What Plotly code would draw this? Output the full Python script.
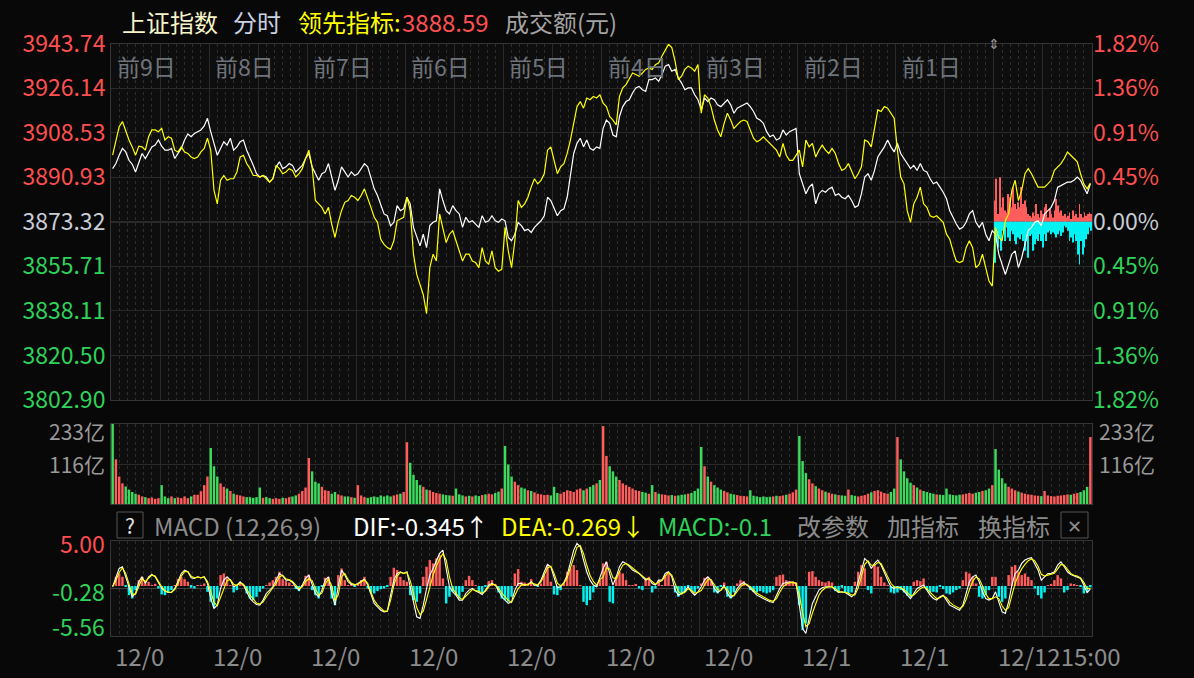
import plotly.graph_objects as go

# ---------------- data ----------------
PREV_CLOSE = 3873.32
SAMPLES_PER_DAY = 30
MIN_PER_DAY = 240
N_DAYS = 10

day_names = ["前9日", "前8日", "前7日", "前6日", "前5日", "前4日", "前3日", "前2日", "前1日"]
dates = ["12/01", "12/02", "12/03", "12/04", "12/05", "12/08", "12/09", "12/10", "12/11", "12/12"]
close_time = "15:00"
price_ticks = [3802.90, 3820.50, 3838.11, 3855.71, 3873.32, 3890.93, 3908.53, 3926.14, 3943.74]
vol_ticks = [116.5, 233.0]
vol_tick_text = ["116亿", "233亿"]
macd_ticks = [5.00, -0.28, -5.56]

# 上证指数 (white line), one list per day
w1 = [3894.3, 3896.3, 3899.6, 3902.3, 3900.9, 3897.6, 3896.0, 3893.0, 3896.6, 3900.3, 3898.3, 3900.9, 3902.9, 3903.6, 3905.6, 3903.2, 3901.6, 3901.6, 3902.3, 3898.3, 3900.3, 3902.3, 3905.6, 3908.0, 3906.9, 3908.2, 3908.9, 3909.6, 3911.2, 3914.2]
w2 = [3908.9, 3904.3, 3899.6, 3902.3, 3904.9, 3903.6, 3906.3, 3901.6, 3902.9, 3904.9, 3905.6, 3901.6, 3898.9, 3895.6, 3892.3, 3891.0, 3891.6, 3891.0, 3889.0, 3890.3, 3895.0, 3897.0, 3894.3, 3895.0, 3896.3, 3895.6, 3893.0, 3894.3, 3895.6, 3898.3]
w3 = [3900.3, 3895.0, 3892.3, 3889.7, 3892.3, 3893.0, 3896.3, 3891.0, 3885.7, 3889.7, 3895.0, 3893.0, 3891.0, 3893.0, 3891.6, 3892.3, 3894.3, 3896.3, 3895.0, 3891.0, 3886.3, 3883.7, 3880.4, 3876.4, 3875.7, 3871.7, 3873.1, 3879.7, 3877.7, 3878.4]
w4 = [3883.0, 3880.4, 3871.1, 3867.1, 3863.8, 3868.4, 3863.1, 3871.8, 3873.1, 3873.7, 3886.3, 3881.7, 3877.7, 3876.4, 3879.7, 3877.7, 3876.4, 3871.1, 3875.1, 3873.1, 3873.7, 3872.4, 3871.1, 3875.7, 3873.1, 3873.7, 3875.7, 3873.7, 3873.1, 3874.4]
w5 = [3873.7, 3867.1, 3865.8, 3868.4, 3873.1, 3871.8, 3869.8, 3870.4, 3869.1, 3871.1, 3872.4, 3873.7, 3875.7, 3883.0, 3881.7, 3879.0, 3875.7, 3877.7, 3878.4, 3883.0, 3891.0, 3900.3, 3904.3, 3906.3, 3902.9, 3905.6, 3902.3, 3901.6, 3902.9, 3902.3]
w6 = [3910.2, 3913.5, 3912.2, 3907.6, 3906.9, 3914.9, 3918.8, 3920.8, 3921.5, 3924.2, 3926.2, 3926.8, 3925.5, 3924.8, 3929.5, 3929.5, 3930.1, 3928.8, 3931.5, 3934.8, 3935.4, 3932.8, 3933.5, 3930.1, 3928.1, 3925.5, 3926.2, 3926.2, 3923.5, 3921.5]
w7 = [3917.5, 3922.2, 3920.8, 3922.2, 3921.5, 3919.5, 3918.8, 3920.2, 3921.5, 3919.5, 3916.2, 3918.2, 3918.8, 3919.5, 3920.2, 3918.8, 3916.9, 3914.2, 3913.5, 3912.2, 3908.9, 3906.9, 3907.6, 3905.6, 3906.3, 3909.6, 3907.6, 3908.9, 3909.6, 3910.2]
w8 = [3892.3, 3888.3, 3884.4, 3887.0, 3888.3, 3880.4, 3884.4, 3885.7, 3885.0, 3886.3, 3887.0, 3883.7, 3884.4, 3883.0, 3882.4, 3883.7, 3881.7, 3879.0, 3879.7, 3884.4, 3891.0, 3892.3, 3889.7, 3893.6, 3898.9, 3900.9, 3902.9, 3905.6, 3902.9, 3900.9]
w9 = [3904.3, 3900.3, 3898.3, 3896.3, 3894.3, 3895.6, 3893.6, 3896.3, 3893.6, 3893.0, 3890.3, 3888.3, 3889.0, 3887.0, 3885.0, 3882.4, 3877.7, 3875.1, 3872.4, 3870.4, 3871.1, 3873.1, 3876.4, 3877.7, 3873.1, 3871.1, 3873.1, 3868.4, 3865.8, 3869.8]
w10 = [3868.4, 3860.5, 3856.5, 3852.5, 3856.5, 3860.5, 3861.8, 3855.2, 3859.1, 3864.4, 3869.8, 3871.1, 3873.1, 3873.7, 3871.8, 3876.4, 3877.7, 3879.0, 3881.7, 3887.0, 3887.6, 3888.3, 3889.0, 3889.0, 3889.7, 3891.0, 3889.7, 3887.0, 3884.4, 3888.3]

# 领先指标 (yellow line)
y1 = [3899.6, 3905.6, 3910.9, 3912.9, 3908.9, 3905.6, 3902.9, 3899.6, 3903.2, 3902.9, 3901.6, 3906.9, 3909.6, 3909.6, 3908.9, 3910.2, 3905.6, 3906.9, 3906.3, 3901.6, 3900.9, 3902.9, 3900.9, 3900.3, 3898.9, 3898.3, 3898.9, 3900.9, 3902.3, 3906.3]
y2 = [3901.6, 3885.7, 3880.4, 3889.7, 3891.6, 3889.7, 3890.3, 3890.3, 3893.0, 3898.9, 3899.6, 3896.3, 3894.3, 3891.6, 3891.6, 3891.0, 3891.6, 3890.3, 3889.0, 3890.3, 3895.6, 3894.3, 3892.3, 3893.0, 3894.3, 3893.6, 3891.0, 3892.3, 3894.3, 3898.3]
y3 = [3901.6, 3895.0, 3881.7, 3880.4, 3879.0, 3876.4, 3879.0, 3872.4, 3867.1, 3873.1, 3877.7, 3881.0, 3881.7, 3883.7, 3883.0, 3881.7, 3883.7, 3886.3, 3883.0, 3879.0, 3875.1, 3873.1, 3866.4, 3864.4, 3863.1, 3862.4, 3865.8, 3873.7, 3874.4, 3875.1]
y4 = [3883.0, 3877.7, 3860.5, 3852.5, 3848.5, 3844.5, 3837.0, 3855.2, 3860.5, 3857.8, 3876.4, 3871.1, 3865.1, 3868.4, 3869.8, 3865.8, 3861.8, 3857.8, 3860.5, 3860.5, 3857.8, 3857.2, 3855.2, 3863.1, 3857.8, 3856.5, 3861.8, 3855.2, 3853.8, 3854.5]
y5 = [3871.1, 3861.8, 3855.2, 3865.8, 3881.7, 3879.0, 3880.4, 3883.0, 3887.0, 3890.3, 3888.3, 3889.7, 3892.3, 3901.6, 3902.9, 3897.6, 3892.3, 3895.0, 3896.3, 3900.3, 3905.6, 3912.2, 3918.8, 3920.8, 3918.2, 3922.2, 3921.5, 3922.8, 3922.2, 3923.5]
y6 = [3920.2, 3918.8, 3914.9, 3913.5, 3911.6, 3922.8, 3926.2, 3927.5, 3930.1, 3932.1, 3931.5, 3930.8, 3932.1, 3933.5, 3934.1, 3933.5, 3935.4, 3936.1, 3938.8, 3941.4, 3943.4, 3942.1, 3936.8, 3929.5, 3930.8, 3933.5, 3934.8, 3934.1, 3932.8, 3935.4]
y7 = [3916.2, 3923.5, 3922.2, 3918.8, 3913.5, 3909.6, 3906.9, 3912.2, 3916.2, 3913.5, 3910.2, 3911.6, 3912.9, 3913.5, 3912.9, 3909.6, 3906.3, 3904.9, 3905.6, 3906.9, 3905.6, 3904.3, 3902.9, 3901.6, 3898.9, 3904.3, 3899.6, 3897.6, 3897.6, 3899.6]
y8 = [3901.6, 3895.0, 3905.6, 3902.9, 3904.3, 3898.9, 3901.6, 3903.6, 3901.6, 3900.3, 3902.3, 3900.3, 3896.3, 3893.6, 3894.3, 3896.3, 3893.6, 3890.3, 3892.3, 3895.0, 3905.6, 3904.9, 3902.9, 3909.6, 3917.5, 3916.9, 3918.8, 3918.2, 3916.2, 3914.2]
y9 = [3901.6, 3891.0, 3888.3, 3877.7, 3873.1, 3880.4, 3883.0, 3887.0, 3880.4, 3879.0, 3875.7, 3875.1, 3875.7, 3874.4, 3873.1, 3868.4, 3866.4, 3861.8, 3857.8, 3857.2, 3857.8, 3863.1, 3865.8, 3863.1, 3855.2, 3856.5, 3860.5, 3855.2, 3849.9, 3847.9]
y10 = [3871.1, 3867.1, 3865.8, 3873.7, 3876.4, 3885.7, 3889.7, 3881.7, 3885.7, 3892.3, 3894.3, 3892.3, 3889.7, 3887.0, 3887.0, 3887.0, 3888.3, 3889.7, 3893.6, 3895.0, 3896.3, 3898.3, 3900.9, 3899.6, 3898.3, 3897.0, 3892.3, 3888.3, 3886.3, 3888.59]

# 成交额 (亿元)
v1 = [233, 130, 80, 60, 51, 42, 35, 30, 27, 22, 20, 17, 19, 15, 17, 55, 22, 17, 22, 17, 19, 17, 22, 17, 22, 27, 27, 37, 55, 80]
v2 = [163, 110, 80, 60, 50, 45, 38, 30, 27, 25, 22, 20, 20, 18, 20, 48, 18, 20, 17, 15, 17, 15, 18, 17, 20, 22, 25, 30, 38, 48]
v3 = [134, 95, 65, 60, 50, 40, 38, 30, 35, 28, 25, 22, 22, 20, 18, 55, 25, 20, 18, 20, 22, 20, 25, 22, 25, 22, 25, 28, 30, 35]
v4 = [180, 120, 85, 70, 55, 50, 42, 40, 35, 32, 30, 28, 26, 25, 24, 45, 28, 25, 22, 24, 22, 25, 23, 26, 28, 30, 28, 32, 36, 45]
v5 = [169, 115, 80, 65, 55, 48, 45, 40, 38, 34, 30, 28, 26, 27, 25, 50, 32, 30, 35, 40, 38, 35, 42, 45, 40, 45, 50, 55, 60, 70]
v6 = [227, 140, 110, 95, 80, 70, 60, 55, 50, 45, 40, 38, 35, 33, 30, 55, 35, 30, 28, 27, 25, 26, 24, 25, 27, 28, 30, 32, 38, 45]
v7 = [166, 110, 80, 65, 55, 48, 42, 38, 34, 30, 28, 26, 24, 23, 22, 40, 24, 22, 20, 22, 20, 21, 22, 24, 23, 25, 27, 30, 34, 42]
v8 = [198, 125, 90, 72, 60, 52, 45, 40, 36, 33, 30, 28, 26, 25, 24, 42, 26, 24, 22, 24, 26, 30, 34, 38, 40, 36, 32, 30, 35, 45]
v9 = [195, 130, 95, 75, 62, 55, 48, 42, 38, 35, 32, 30, 28, 27, 26, 45, 28, 26, 25, 27, 28, 30, 32, 30, 33, 35, 38, 40, 45, 55]
v10 = [160, 100, 75, 60, 50, 45, 40, 36, 33, 30, 28, 27, 25, 24, 23, 38, 25, 23, 22, 24, 25, 26, 28, 27, 30, 32, 35, 40, 50, 195]

# today's buy / sell strength bars (points from previous close)
today_buy = [8.4, 17.0, 3.1, 17.6, 5.7, 9.7, 4.4, 3.7, 11.0, 9.7, 5.7, 13.7, 7.0, 5.0, 7.7, 5.7, 13.7, 7.0, 8.4, 5.7, 3.1, 2.4, 1.7, 3.7, 2.4, 7.0, 3.1, 1.7, 4.4, 3.1, 5.7, 7.0, 1.7, 5.0, 3.1, 1.7, 4.4, 9.0, 6.4, 3.7, 4.4, 2.4, 3.1, 1.7, 2.4, 3.7, 1.1, 4.4, 2.4, 3.1, 1.7, 7.0, 3.1, 1.7, 3.7, 2.4, 3.1, 3.7, 3.1]
today_sell = [16.2, 7.6, 10.2, 6.2, 11.5, 3.6, 7.6, 2.3, 6.2, 7.6, 3.6, 4.9, 7.6, 8.9, 6.2, 6.9, 4.9, 7.6, 11.5, 7.6, 14.2, 5.6, 4.9, 11.5, 8.9, 6.9, 7.6, 4.9, 7.6, 10.2, 4.9, 7.6, 4.2, 3.6, 4.9, 4.2, 4.9, 6.2, 4.9, 3.6, 5.6, 4.2, 1.6, 2.3, 3.6, 7.6, 6.2, 8.2, 4.9, 7.6, 12.9, 16.9, 7.6, 12.9, 10.2, 6.9, 4.9, 2.3, 3.6]

# MACD (12,26,9)
d1 = [-0.09, 1.02, 1.95, 2.14, 1.02, -0.28, -1.20, -0.83, 0.47, 1.02, 0.28, 1.02, 1.28, 1.02, 0.28, -0.28, -0.57, -0.72, -0.72, -0.28, 0.54, 1.39, 1.77, 1.58, 0.91, 0.84, 1.02, 0.91, 1.02, 0.28]
d2 = [-1.39, -2.50, -2.13, -0.28, 0.65, 1.02, 0.65, -0.09, 0.10, 0.47, 0.10, -0.65, -1.39, -1.76, -2.06, -2.13, -1.57, -0.83, -0.46, -0.09, 0.65, 1.39, 1.13, 0.65, 0.65, 0.39, -0.09, -0.46, 0.10, 0.84]
d3 = [1.21, 0.28, -0.83, -1.20, -0.46, 0.65, 1.02, -0.83, -2.13, -0.09, 1.77, 1.21, 0.47, 0.17, 0.10, 0.28, 0.54, 0.76, 0.10, -1.02, -1.94, -2.32, -2.69, -2.87, -2.80, -1.02, 0.65, 1.39, 1.58, 1.39]
d4 = [1.58, -0.09, -1.76, -3.43, -3.61, -2.13, -0.28, 1.21, 1.95, 2.88, 3.62, 3.99, 2.14, -0.09, -0.65, -1.02, -1.57, -1.57, -0.83, -0.46, -0.28, -0.57, -0.72, -0.94, -0.46, 0.10, 0.28, 0.10, -0.46, -1.20]
d5 = [-1.57, -1.94, -1.76, -0.46, 0.28, 0.28, 0.10, 0.17, 0.47, 0.10, 0.10, 0.65, 1.58, 2.40, 2.14, 0.84, -0.20, -0.09, 0.39, 1.21, 2.69, 3.99, 4.73, 4.36, 2.88, 1.58, 0.65, 0.10, -0.09, 1.02]
d6 = [1.95, 2.69, 1.39, 0.10, 1.02, 2.14, 2.69, 2.51, 2.14, 1.77, 1.58, 1.39, 1.02, 0.65, 0.84, 0.28, 0.10, 0.65, 0.65, 1.39, 1.58, 1.02, -0.46, -1.02, -0.83, -0.57, -0.09, -0.65, -1.02, -0.65]
d7 = [-0.09, 0.65, 1.02, 0.65, -0.28, -0.72, -0.46, 0.10, -0.83, -1.31, -1.02, -0.28, 0.17, 0.39, 0.10, -0.28, -0.72, -1.02, -1.20, -1.39, -1.57, -1.76, -1.83, -1.02, -0.28, 0.28, 0.39, 0.47, 0.39, 0.28]
d8 = [-2.13, -4.73, -5.28, -3.43, -1.94, -1.20, -0.46, -0.20, -0.09, -0.09, -0.09, -0.46, -0.72, -0.65, -0.72, -0.94, -1.20, -0.83, 0.47, 1.95, 3.06, 2.69, 1.95, 2.51, 2.88, 2.32, 1.39, 0.65, -0.09, -0.28]
d9 = [-0.09, -0.20, -0.57, -1.02, -1.39, -0.83, -0.28, -0.09, 0.10, -0.46, -1.02, -1.39, -1.57, -1.20, -1.02, -1.57, -2.13, -2.32, -2.50, -2.69, -2.13, -0.83, 0.47, 1.02, 1.21, 0.47, -0.65, -1.39, -1.57, -1.39]
d10 = [-0.65, -1.76, -2.87, -3.06, -1.76, 0.10, 1.39, 1.77, 2.51, 2.88, 3.06, 3.14, 2.51, 1.77, 0.65, 1.02, 1.39, 1.39, 1.58, 2.32, 2.69, 2.14, 1.58, 1.28, 1.13, 1.02, 0.84, 0.10, -0.72, -0.345]

e1 = [-0.05, 0.6, 1.5, 2.0, 1.4, 0.3, -0.9, -0.9, 0.0, 0.8, 0.5, 0.8, 1.2, 1.1, 0.5, -0.1, -0.5, -0.7, -0.7, -0.4, 0.3, 1.1, 1.6, 1.6, 1.1, 0.9, 1.0, 0.9, 1.0, 0.5]
e2 = [-0.6, -1.8, -2.2, -1.2, -0.2, 0.6, 0.7, 0.2, 0.05, 0.3, 0.2, -0.3, -1.0, -1.5, -1.9, -2.0, -1.8, -1.2, -0.7, -0.3, 0.3, 1.0, 1.2, 0.8, 0.7, 0.5, 0.1, -0.3, -0.1, 0.5]
e3 = [0.8, 0.6, -0.3, -1.0, -0.8, 0.2, 0.8, 0.0, -1.6, -1.0, 1.0, 1.4, 0.7, 0.3, 0.15, 0.2, 0.45, 0.7, 0.3, -0.7, -1.6, -2.1, -2.5, -2.8, -2.8, -1.6, 0.1, 1.1, 1.5, 1.4]
e4 = [1.5, 0.6, -0.8, -2.4, -3.2, -2.8, -1.5, 0.0, 1.2, 2.2, 3.0, 3.6, 2.9, 1.0, -0.3, -0.8, -1.3, -1.5, -1.1, -0.7, -0.4, -0.5, -0.6, -0.8, -0.6, -0.1, 0.2, 0.1, -0.2, -0.8]
e5 = [-1.2, -1.6, -1.8, -1.1, -0.3, 0.1, 0.1, 0.15, 0.35, 0.2, 0.1, 0.45, 1.2, 2.0, 2.2, 1.4, 0.3, 0.0, 0.3, 0.9, 2.0, 3.3, 4.3, 4.5, 3.6, 2.3, 1.2, 0.5, 0.1, 0.7]
e6 = [1.0, 2.0, 1.9, 0.9, 0.8, 1.6, 2.3, 2.5, 2.3, 2.0, 1.7, 1.5, 1.2, 0.8, 0.8, 0.5, 0.2, 0.4, 0.6, 1.1, 1.5, 1.2, 0.2, -0.6, -0.9, -0.7, -0.3, -0.5, -0.8, -0.7]
e7 = [-0.5, 0.1, 0.7, 0.7, 0.2, -0.4, -0.5, -0.1, -0.4, -1.0, -1.1, -0.6, -0.1, 0.2, 0.2, -0.1, -0.5, -0.8, -1.0, -1.2, -1.4, -1.6, -1.7, -1.4, -0.7, -0.1, 0.2, 0.35, 0.4, 0.3]
e8 = [-1.0, -3.0, -4.5, -4.2, -3.0, -1.9, -1.0, -0.5, -0.2, -0.1, -0.1, -0.3, -0.6, -0.7, -0.7, -0.8, -1.0, -1.0, -0.2, 1.1, 2.4, 2.8, 2.3, 2.3, 2.6, 2.5, 1.8, 1.0, 0.3, -0.1]
e9 = [-0.2, -0.2, -0.4, -0.7, -1.1, -1.0, -0.6, -0.3, -0.1, -0.3, -0.7, -1.1, -1.4, -1.3, -1.1, -1.3, -1.8, -2.1, -2.3, -2.5, -2.3, -1.5, -0.4, 0.5, 1.0, 0.8, 0.0, -0.9, -1.4, -1.4]
e10 = [-1.2, -1.4, -2.2, -2.7, -2.4, -1.1, 0.3, 1.2, 1.9, 2.4, 2.8, 3.0, 2.8, 2.2, 1.3, 1.1, 1.2, 1.3, 1.4, 1.9, 2.4, 2.3, 1.8, 1.4, 1.2, 1.1, 0.9, 0.4, -0.3, -0.269]

h1 = [0.0, 1.02, 1.39, 1.02, -0.09, -1.02, -1.39, -0.46, 0.65, 1.02, 0.28, 0.47, 0.1, 0.24, -0.28, -0.94, -1.02, -0.72, -0.46, 0.1, 0.76, 1.02, 0.76, 0.47, -0.2, -0.28, 0.1, 0.02, 0.28, -0.65]
h2 = [-1.76, -2.32, -1.39, 1.21, 1.39, 0.84, 0.10, -0.72, -0.46, 0.28, 0.10, -0.83, -1.39, -1.57, -1.20, -0.65, -0.28, 0.10, 0.39, 0.65, 1.02, 1.58, 0.76, 0.54, 0.39, 0.10, -0.35, -0.57, 0.10, 1.13]
h3 = [1.21, -0.46, -1.02, -1.39, -0.09, 0.91, 1.02, -1.39, -2.13, 1.21, 1.95, 0.65, 0.10, 0.28, -0.09, 0.17, 0.65, 1.02, -0.28, -0.72, -0.83, -0.57, -0.35, -0.28, -0.09, 1.02, 2.03, 1.77, 1.02, 0.65]
h4 = [0.47, -1.02, -1.57, -1.76, -0.83, 1.02, 2.14, 2.88, 2.51, 3.06, 3.44, 0.84, -1.94, -1.20, -0.65, -1.02, -1.39, -0.65, 0.65, 1.13, 0.65, 0.10, -0.57, -0.83, -0.09, 0.54, 0.65, 0.17, -0.72, -1.39]
h5 = [-1.57, -1.76, -1.20, 1.39, 1.88, 0.47, 0.39, 0.28, 0.76, 0.10, -0.09, 0.28, 1.21, 2.32, 0.47, -0.94, -1.02, -0.46, 0.28, 1.58, 1.95, 2.32, 1.77, 0.10, -1.76, -2.13, -1.57, -0.72, -0.09, 0.65]
h6 = [2.51, 2.69, -1.76, -1.94, 1.02, 1.58, 1.39, 0.65, 0.10, 0.10, 0.17, -0.28, -0.46, 0.76, 1.02, -0.72, -0.28, 0.65, 0.10, 1.21, 1.39, 0.10, -0.72, -1.20, -0.83, -0.65, -0.09, -0.57, -0.72, -0.28]
h7 = [0.28, 0.91, 1.02, 0.65, -0.72, -0.83, -0.09, 0.39, -1.20, -1.39, -0.72, 0.28, 0.65, 0.54, 0.10, -0.46, -0.65, -0.72, -0.57, -0.72, -0.83, -0.72, -0.46, 1.02, 1.21, 1.28, 0.65, 0.47, 0.54, 0.39]
h8 = [-2.13, -4.91, -4.17, 1.58, 1.65, 1.02, 0.65, 0.47, 0.39, 0.54, 0.39, -0.57, -0.72, -0.20, -0.72, -0.83, -0.72, 0.47, 1.58, 2.32, 1.95, -0.46, -0.83, 2.40, 2.14, 1.02, 0.39, 0.10, -0.72, -0.83]
h9 = [-0.72, -0.46, -0.72, -1.09, -1.20, 0.47, 0.65, 0.54, 0.84, -0.46, -0.72, -0.65, -0.72, -0.09, -0.35, -0.83, -0.94, -0.72, -0.46, -0.28, 0.65, 1.58, 1.39, 1.02, 0.28, -1.20, -1.39, -1.02, -0.46, 1.02]
h10 = [1.02, -1.20, -1.76, -1.39, 1.21, 2.14, 2.32, 1.58, 1.21, 1.39, 1.02, 0.65, -0.28, -1.02, -1.39, -0.72, 0.10, 0.17, 0.65, 1.21, 0.84, -0.72, -0.46, 0.28, 0.17, 0.10, -0.09, -0.83, -0.72, -0.15]

index_close = w1 + w2 + w3 + w4 + w5 + w6 + w7 + w8 + w9 + w10
leading = y1 + y2 + y3 + y4 + y5 + y6 + y7 + y8 + y9 + y10
turnover = v1 + v2 + v3 + v4 + v5 + v6 + v7 + v8 + v9 + v10
dif = d1 + d2 + d3 + d4 + d5 + d6 + d7 + d8 + d9 + d10
dea = e1 + e2 + e3 + e4 + e5 + e6 + e7 + e8 + e9 + e10
macd_hist = h1 + h2 + h3 + h4 + h5 + h6 + h7 + h8 + h9 + h10

# ---------------- style ----------------
W, H = 1194, 678
FONT = "Noto Sans CJK SC, Noto Sans, sans-serif"
RED_TXT, GREEN_TXT, NEUTRAL_TXT, GRAY_TXT = "#FF4F4F", "#2ED35A", "#C9CDD6", "#9A9A9A"
RED_BAR, GREEN_BAR, CYAN_BAR = "#FF5C5C", "#3CDB5E", "#00F2F2"
GRID, BORDER = "#2A2A2A", "#353535"
AX_SIZE = 23


def fx(px):
    return px / W


def fy(py):
    return 1 - py / H


XDOM = [fx(111), fx(1092)]
MAIN_DOM = [fy(400), fy(43.5)]
VOL_DOM = [fy(504), fy(424)]
MACD_DOM = [fy(636), fy(541)]

total_min = N_DAYS * MIN_PER_DAY
step = MIN_PER_DAY / SAMPLES_PER_DAY
t = [d * MIN_PER_DAY + k * step + step / 2 for d in range(N_DAYS) for k in range(SAMPLES_PER_DAY)]
n_today = len(today_buy)
t_today = [(N_DAYS - 1) * MIN_PER_DAY + (i + 0.5) * MIN_PER_DAY / n_today for i in range(n_today)]

vol_colors = [RED_BAR if (i > 0 and index_close[i] > index_close[i - 1]) else GREEN_BAR
              for i in range(len(turnover))]
hist_colors = [RED_BAR if v >= 0 else CYAN_BAR for v in macd_hist]

fig = go.Figure()
# main panel
fig.add_trace(go.Bar(x=t_today, y=today_buy, base=PREV_CLOSE, width=2.2, marker=dict(color=RED_BAR, line_width=0),
                     xaxis="x", yaxis="y"))
fig.add_trace(go.Bar(x=t_today, y=[-v for v in today_sell], base=PREV_CLOSE, width=2.2,
                     marker=dict(color=CYAN_BAR, line_width=0), xaxis="x", yaxis="y"))
fig.add_trace(go.Scatter(x=t, y=index_close, mode="lines", line=dict(color="#FFFFFF", width=1.2),
                         xaxis="x", yaxis="y"))
fig.add_trace(go.Scatter(x=t, y=leading, mode="lines", line=dict(color="#FFFF00", width=1.2),
                         xaxis="x", yaxis="y"))
fig.add_trace(go.Scatter(x=[None], y=[None], xaxis="x", yaxis="y2"))
# volume
fig.add_trace(go.Bar(x=t, y=turnover, width=6, marker=dict(color=vol_colors, line_width=0), xaxis="x2", yaxis="y3"))
# MACD
fig.add_trace(go.Bar(x=t, y=macd_hist, width=6, marker=dict(color=hist_colors, line_width=0), xaxis="x3", yaxis="y5"))
fig.add_trace(go.Scatter(x=t, y=dif, mode="lines", line=dict(color="#FFFFFF", width=1.1), xaxis="x3", yaxis="y5"))
fig.add_trace(go.Scatter(x=t, y=dea, mode="lines", line=dict(color="#FFFF00", width=1.1), xaxis="x3", yaxis="y5"))


def colored(v, txt):
    c = RED_TXT if v > PREV_CLOSE + 1e-9 else (GREEN_TXT if v < PREV_CLOSE - 1e-9 else NEUTRAL_TXT)
    return f'<span style="color:{c}">{txt}</span>'


left_text = [colored(v, f"{v:.2f}") for v in price_ticks]
right_text = [colored(v, f"{abs(v - PREV_CLOSE) / PREV_CLOSE * 100:.2f}%") for v in price_ticks]

major = list(range(0, total_min + 1, MIN_PER_DAY // 2))
minor = [m for m in range(0, total_min + 1, 20) if m % (MIN_PER_DAY // 2)]


def xaxis(anchor):
    return dict(domain=XDOM, range=[0, total_min], anchor=anchor, tickmode="array", tickvals=major,
                showticklabels=False, showgrid=True, gridcolor=GRID, gridwidth=1, zeroline=False,
                showline=True, linecolor=BORDER, mirror=True, ticks="", fixedrange=True, automargin=False,
                minor=dict(tickmode="array", tickvals=minor, showgrid=True, gridcolor="#2E2E2E",
                           griddash="dot", gridwidth=1, ticks=""))


tickfont = dict(size=AX_SIZE, family=FONT)
fig.update_layout(
    width=W, height=H, margin=dict(l=0, r=0, t=0, b=0, pad=0), autosize=False,
    paper_bgcolor="#080808", plot_bgcolor="#0E0E0E",
    showlegend=False, barmode="overlay", font=dict(family=FONT, color=GRAY_TXT),
    xaxis=xaxis("y"), xaxis2=xaxis("y3"), xaxis3=xaxis("y5"),
    yaxis=dict(domain=MAIN_DOM, range=[price_ticks[0], price_ticks[-1]], anchor="x", tickmode="array",
               tickvals=price_ticks, ticktext=left_text, showgrid=True, gridcolor=GRID, zeroline=False,
               showline=True, linecolor=BORDER, mirror=True, ticks="", tickfont=tickfont, automargin=False,
               fixedrange=True),
    yaxis2=dict(overlaying="y", side="right", anchor="x", range=[price_ticks[0], price_ticks[-1]],
                tickmode="array", tickvals=price_ticks, ticktext=right_text, showgrid=False,
                zeroline=False, showline=False, ticks="", tickfont=tickfont, automargin=False, fixedrange=True),
    yaxis3=dict(domain=VOL_DOM, range=[0, vol_ticks[-1]], anchor="x2", tickmode="array", tickvals=vol_ticks,
                showticklabels=False, showgrid=True, gridcolor=GRID, zeroline=False, showline=True,
                linecolor=BORDER, mirror=True, ticks="", automargin=False, fixedrange=True),
    yaxis5=dict(domain=MACD_DOM, range=[macd_ticks[-1], macd_ticks[0]], anchor="x3", tickmode="array",
                tickvals=[macd_ticks[1]], showticklabels=False, showgrid=True, gridcolor="#414141",
                zeroline=False, showline=True, linecolor=BORDER, mirror=True, ticks="", automargin=False,
                fixedrange=True),
)

# previous close line
fig.add_shape(type="line", xref="paper", yref="y", x0=XDOM[0], x1=XDOM[1], y0=PREV_CLOSE, y1=PREV_CLOSE,
              line=dict(color="#474747", width=1.5), layer="below")

ann = []


def text(x, y, s, color, size=22, xanchor="left", **kw):
    ann.append(dict(x=x, y=y, xref=kw.pop("xref", "paper"), yref=kw.pop("yref", "paper"), text=s,
                    showarrow=False, xanchor=xanchor, yanchor=kw.pop("yanchor", "middle"),
                    font=dict(size=size, color=color, family=FONT), **kw))


# header
text(fx(120), fy(21), "上证指数", "#F6F3C8", 24)
text(fx(231), fy(21), "分时", "#C8D2E4", 24)
text(fx(296), fy(21), "领先指标:", "#FFFF00", 24)
text(fx(400), fy(21), f"{leading[-1]:.2f}", "#FF5050", 24)
text(fx(503), fy(21), "成交额(元)", "#A3A3A3", 24)
text(fx(994), fy(43), "⇕", "#9A9A9A", 14, xanchor="center")

# day labels inside the main panel
for d, name in enumerate(day_names):
    text(d * MIN_PER_DAY, fy(66), name, "#6F747C", 23, xref="x", xshift=4)

# date labels along the bottom
for d, dt in enumerate(dates):
    s = dt + close_time if d == len(dates) - 1 else dt[:4]
    text(d * MIN_PER_DAY, fy(655), s, "#8C8C8C", 24, xref="x", xshift=2)

# volume axis labels (both sides); the top one sits just below the panel edge
for v, txt, shift in zip(vol_ticks, vol_tick_text, [0, -7]):
    text(fx(107), v, txt, GRAY_TXT, 21, xanchor="right", yref="y3", yshift=shift)
    text(fx(1097), v, txt, GRAY_TXT, 21, xanchor="left", yref="y3", yshift=shift)

# MACD axis labels
for v, shift in zip(macd_ticks, [-2, -2, 10]):
    text(fx(107), v, f"{v:.2f}", RED_TXT if v > 0 else GREEN_TXT, AX_SIZE, xanchor="right", yref="y5", yshift=shift)

# MACD header
text(fx(130), fy(525), "?", "#E0E0E0", 21, xanchor="center")
text(fx(152), fy(525), "MACD (12,26,9)", "#8C8C8C", 24)
text(fx(351), fy(525), f"DIF:{dif[-1]:.3f}↑", "#FFFFFF", 24)
text(fx(499), fy(525), f"DEA:{dea[-1]:.3f}↓", "#FFFF00", 24)
text(fx(656), fy(525), f"MACD:{macd_hist[-1]:.2f}"[:-1], "#2ED35A", 24)
text(fx(795), fy(525), "改参数", "#8C8C8C", 24)
text(fx(885), fy(525), "加指标", "#8C8C8C", 24)
text(fx(976), fy(525), "换指标", "#8C8C8C", 24)
text(fx(1074), fy(525), "✕", "#8C8C8C", 18, xanchor="center")
fig.update_layout(annotations=ann)

for x0, x1 in [(117, 143), (1061, 1088)]:
    fig.add_shape(type="rect", xref="paper", yref="paper", x0=fx(x0), x1=fx(x1), y0=fy(538), y1=fy(512),
                  line=dict(color="#555555", width=1))

fig.write_html("out.html", config={"displayModeBar": False},
               post_script="document.body.style.margin='0';document.body.style.overflow='hidden';")
